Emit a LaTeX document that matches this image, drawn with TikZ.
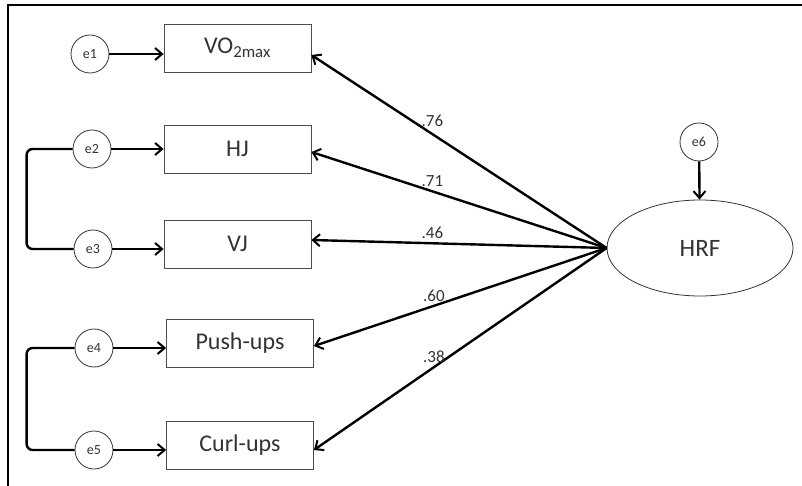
\documentclass[tikz,border=0pt]{standalone}
\usepackage{fontspec}
\setmainfont{Carlito}
\usepackage{tikz}
\usetikzlibrary{arrows.meta, shapes.geometric}

\tikzset{
  obs/.style = {draw = black!70, line width = 0.8pt, minimum width = 147pt, minimum height = 48pt, font = \fontsize{24}{28}\selectfont, text = black!80},
  err/.style = {draw = black!80, line width = 0.8pt, circle, minimum size = 38pt, inner sep = 0pt, font = \fontsize{14}{16}\selectfont, text = black!80},
  arr/.style = {line width = 2.4pt, -{Straight Barb[length = 7pt, width = 12pt, line width = 2pt]}},
  cov/.style = {line width = 2.4pt, rounded corners = 6pt},
  coef/.style = {font = \fontsize{17}{19}\selectfont, text = black!80}
}

\begin{document}
\begin{tikzpicture}[x = 1pt, y = -1pt]
\useasboundingbox (0,0) rectangle (802,486);
\draw[line width = 2.6pt] (8,486)--(8,5)--(802,5);

\node[obs] (vo) at (237.5,48) {VO\textsubscript{2max}};
\node[obs] (hj) at (237.5,149) {HJ};
\node[obs] (vj) at (237.5,244) {VJ};
\node[obs] (push) at (240,343) {Push-ups};
\node[obs] (curl) at (240,445) {Curl-ups};

\node[err] (e1) at (90,54) {e1};
\node[err] (e2) at (92,149) {e2};
\node[err] (e3) at (93,249) {e3};
\node[err] (e4) at (94,348) {e4};
\node[err] (e5) at (94,450) {e5};

\node[ellipse, draw = black!80, line width = 0.8pt, minimum width = 186pt, minimum height = 96pt, font = \fontsize{25}{29}\selectfont, text = black!80] (hrf) at (700,248) {HRF};
\node[err] (e6) at (699,142) {e6};

\draw[arr] (e1) -- (e1 -| vo.west);
\draw[arr] (e2) -- (e2 -| hj.west);
\draw[arr] (e3) -- (e3 -| vj.west);
\draw[arr] (e4) -- (e4 -| push.west);
\draw[arr] (e5) -- (e5 -| curl.west);
\draw[arr] (e6) -- (hrf);

\draw[cov] (e2.west) -- ++(-46,0) |- (e3.west);
\draw[cov] (e4.west) -- ++(-48,0) |- (e5.west);

\draw[arr] (hrf.west) -- node[coef, pos = 0.59, above = 3pt] {.76} ([yshift = -7pt]vo.east);
\draw[arr] (hrf.west) -- node[coef, pos = 0.59, above] {.71} ([yshift = -3pt]hj.east);
\draw[arr] (hrf.west) -- node[coef, pos = 0.59, above] {.46} ([yshift = 4pt]vj.east);
\draw[arr] (hrf.west) -- node[coef, pos = 0.59, above] {.60} ([yshift = -3pt]push.east);
\draw[arr] (hrf.west) -- node[coef, pos = 0.59, above] {.38} ([yshift = -5pt]curl.east);
\end{tikzpicture}
\end{document}
